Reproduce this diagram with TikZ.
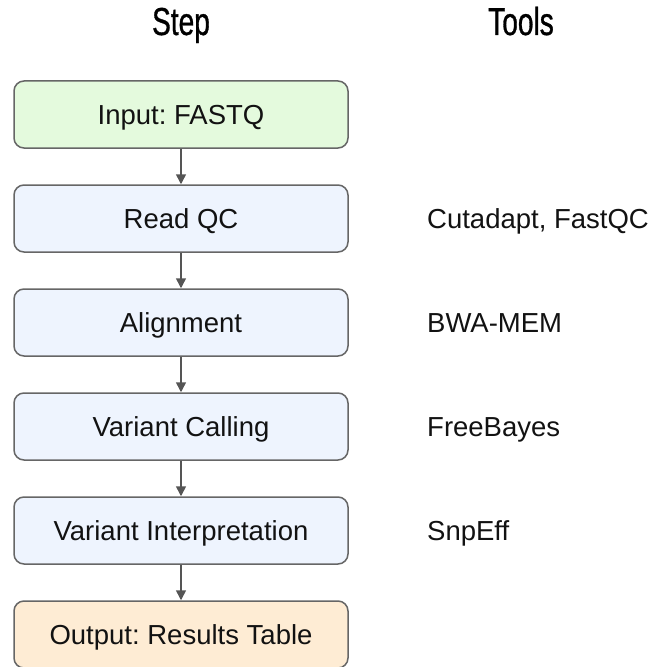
\documentclass[tikz,border=0pt]{standalone}
\usepackage{fontspec}
\setmainfont{Liberation Sans}
\newfontfamily\headfont[FakeStretch=0.72,FakeBold=0.8]{Liberation Sans}
\usetikzlibrary{arrows.meta}
\frenchspacing
\definecolor{bordergray}{HTML}{666666}
\definecolor{arrowgray}{HTML}{555555}
\definecolor{fillgreen}{HTML}{E4FADD}
\definecolor{fillblue}{HTML}{EEF4FE}
\definecolor{fillorange}{HTML}{FEECD4}
\tikzset{
  stepbox/.style={draw=bordergray, line width=1.5pt, rounded corners=10pt,
    minimum width=334pt, minimum height=67pt, inner sep=0pt,
    text height=20pt, text depth=0pt,
    font=\fontsize{27.5}{30}\selectfont, text=black!93},
  toollabel/.style={anchor=west, inner sep=0pt, text height=20pt, text depth=0pt,
    font=\fontsize{27.5}{30}\selectfont, text=black!93},
  header/.style={inner sep=0pt, font=\headfont\fontsize{39}{42}\selectfont, text=black},
  flow/.style={draw=arrowgray, line width=1.5pt, -{Triangle[length=10pt,width=10pt]}}
}
\begin{document}
\begin{tikzpicture}[x=1pt,y=-1pt]
\useasboundingbox (0,0) rectangle (668,666);
\clip (0,0) rectangle (668,666);
\node[header, anchor=base] (hstep) at (181,35) {Step};
\node[header, anchor=base] (htools) at (521,35) {Tools};
\node[stepbox, fill=fillgreen] (s1) at (181,114.5) {Input: FASTQ};
\node[stepbox, fill=fillblue] (s2) at (181,218.5) {Read QC};
\node[stepbox, fill=fillblue] (s3) at (181,322.5) {Alignment};
\node[stepbox, fill=fillblue] (s4) at (181,426.5) {Variant Calling};
\node[stepbox, fill=fillblue] (s5) at (181,530.5) {Variant Interpretation};
\node[stepbox, fill=fillorange] (s6) at (181,634.5) {Output: Results Table};
\node[toollabel] (t2) at (427,218.5) {Cutadapt, FastQC};
\node[toollabel] (t3) at (427,322.5) {BWA-MEM};
\node[toollabel] (t4) at (427,426.5) {FreeBayes};
\node[toollabel] (t5) at (427,530.5) {SnpEff};
\draw[flow] (s1) -- (s2);
\draw[flow] (s2) -- (s3);
\draw[flow] (s3) -- (s4);
\draw[flow] (s4) -- (s5);
\draw[flow] (s5) -- (s6);
\end{tikzpicture}
\end{document}
